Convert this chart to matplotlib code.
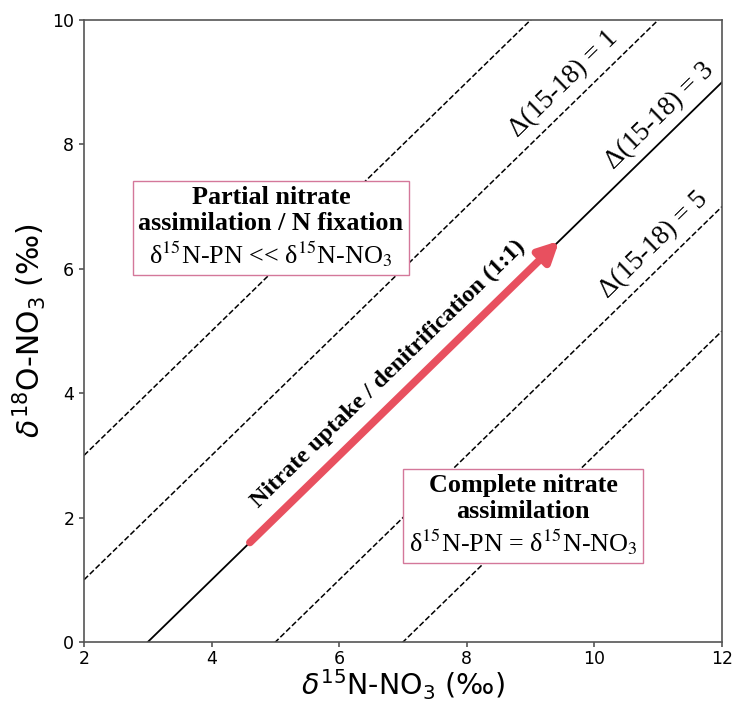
import math
import matplotlib
matplotlib.use("Agg")
import matplotlib.pyplot as plt
from matplotlib.offsetbox import TextArea, VPacker, AnnotationBbox

# Data
delta_values = [-1, 1, 3, 5, 7]
line_styles = ["--", "--", "-", "--", "--"]
x_range = [2, 12]
label_deltas = [1, 3, 5]
label_pos = [(9.52, 8.97), (11.03, 8.46), (10.93, 6.38)]
arrow_start = (4.6, 1.6)
arrow_end = (9.45, 6.45)
xticks = [2, 4, 6, 8, 10, 12]
yticks = [0, 2, 4, 6, 8, 10]

serif = "Liberation Serif"
pink_edge = "#d4789a"
arrow_col = "#e8505f"

fig = plt.figure(figsize=(7.35, 7.04), dpi=100)
ax = fig.add_axes([84/735, 1 - 642/704, (722-84)/735, (642-20)/704])

for d, ls in zip(delta_values, line_styles):
    ys = [x - d for x in x_range]
    ax.plot(x_range, ys, linestyle=ls, color="black", lw=1.3 if ls == "-" else 1.1)

ax.set_xlim(2, 12)
ax.set_ylim(0, 10)
ax.set_xticks(xticks)
ax.set_yticks(yticks)

p0 = ax.transData.transform((0, 0))
p1 = ax.transData.transform((1, 1))
ang = math.degrees(math.atan2(p1[1] - p0[1], p1[0] - p0[0]))

for d, (tx, ty) in zip(label_deltas, label_pos):
    ax.text(tx, ty, f"Δ(15-18) = {d}", rotation=ang, rotation_mode="anchor",
            ha="center", va="center", family=serif, fontsize=19.5)

ax.annotate("", xy=arrow_end, xytext=arrow_start,
            arrowprops=dict(arrowstyle="-|>", lw=5.5, color=arrow_col,
                            mutation_scale=30, shrinkA=0, shrinkB=0))

ax.text(6.77, 4.31, "Nitrate uptake / denitrification (1:1)", rotation=ang,
        rotation_mode="anchor", ha="center", va="center", family=serif,
        fontweight="bold", fontsize=17.5)

def box(xy, bold_text, reg_text):
    t1 = TextArea(bold_text, textprops=dict(family=serif, fontweight="bold",
                                            fontsize=18.8, ha="center", multialignment="center",
                                            linespacing=1.15))
    t2 = TextArea(reg_text, textprops=dict(family=serif, fontsize=18.8,
                                           math_fontfamily="stix", ha="center"))
    pack = VPacker(children=[t1, t2], align="center", pad=0, sep=3)
    ab = AnnotationBbox(pack, xy, xycoords="data", frameon=True, pad=0.42,
                        bboxprops=dict(edgecolor=pink_edge, facecolor="white", lw=1.0))
    ax.add_artist(ab)

box((4.93, 6.66), "Partial nitrate\nassimilation / N fixation",
    "δ$^{15}$N-PN << δ$^{15}$N-NO$_3$")
box((8.88, 2.03), "Complete nitrate\nassimilation",
    "δ$^{15}$N-PN = δ$^{15}$N-NO$_3$")

ax.set_xlabel(r"$\delta^{15}$N-NO$_3$ (‰)", fontsize=20.5, labelpad=0)
ax.set_ylabel(r"$\delta^{18}$O-NO$_3$ (‰)", fontsize=21.5, labelpad=3)
ax.tick_params(labelsize=12.5, color="#555555", width=1.2)
ax.tick_params(axis="x", pad=2)
for s in ax.spines.values():
    s.set_color("#555555")
    s.set_linewidth(1.2)

fig.savefig("out.png", dpi=100)
